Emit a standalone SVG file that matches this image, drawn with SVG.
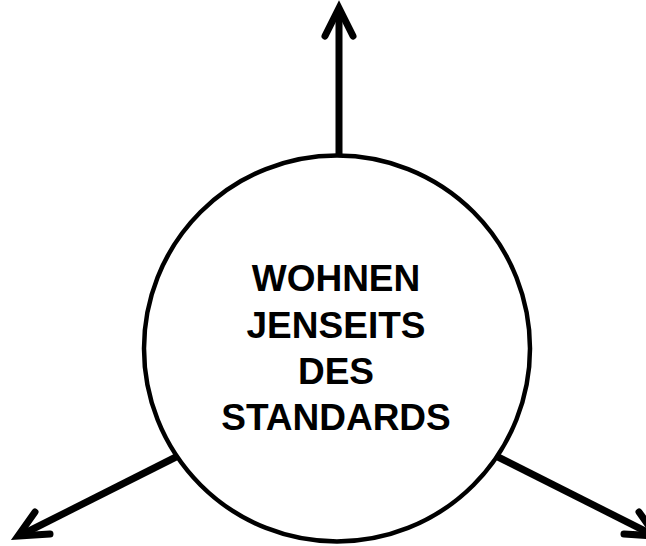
<svg xmlns="http://www.w3.org/2000/svg" width="646" height="546" viewBox="0 0 646 546">
  <style>
    .shaft { fill: none; stroke: #000; stroke-width: 7; stroke-linecap: butt; }
    .head { fill: none; stroke: #000; stroke-width: 7; stroke-linecap: round; stroke-linejoin: miter; stroke-miterlimit: 10; }
    .hub { fill: #fff; stroke: #000; stroke-width: 4.5; }
    .label { font-family: "Liberation Sans", Arial, sans-serif; font-weight: bold; font-size: 37px; fill: #000; text-anchor: middle; }
  </style>
  <rect width="646" height="546" fill="#fff"/>
  <g id="connectors">
    <!-- up -->
    <line class="shaft" x1="339" y1="156" x2="339" y2="10"/>
    <polyline class="head" points="325,36 339,8 353,36"/>
    <!-- down-left -->
    <line class="shaft" x1="176" y1="457" x2="21" y2="535"/>
    <polyline class="head" points="35,512 18,536 50,534"/>
    <!-- down-right -->
    <line class="shaft" x1="498" y1="457" x2="653" y2="535"/>
    <polyline class="head" points="639,512 656,536 624,534"/>
  </g>
  <g id="hub">
    <circle class="hub" cx="337" cy="348.5" r="193"/>
    <text class="label" x="336" y="291">WOHNEN</text>
    <text class="label" x="336" y="337.5">JENSEITS</text>
    <text class="label" x="336" y="384">DES</text>
    <text class="label" x="336" y="430">STANDARDS</text>
  </g>
</svg>
